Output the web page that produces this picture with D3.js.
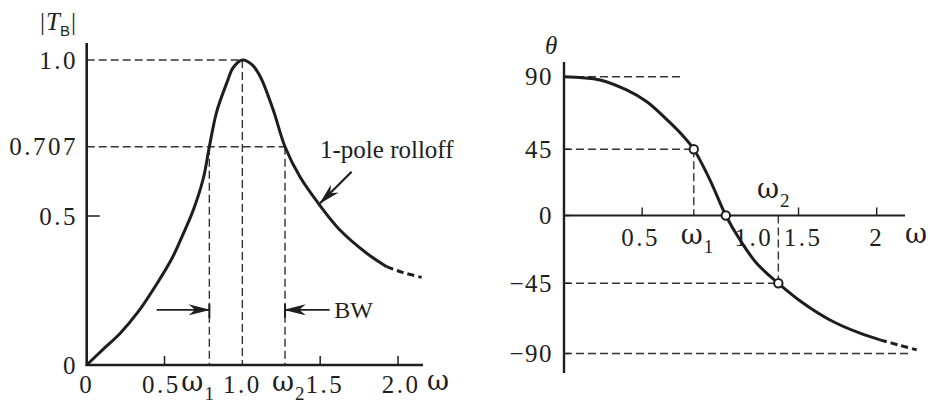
<!DOCTYPE html>
<html>
<head>
<meta charset="utf-8">
<script src="https://cdn.jsdelivr.net/npm/d3@7"></script>
<style>
  body { margin: 0; background: #fff; }
  svg { display: block; }
</style>
</head>
<body>
<svg width="930" height="407" font-family="'Liberation Serif', 'Times New Roman', Times, serif"></svg>
<script>
// left panel: |T_B| against omega
const magW = [0, 0.1, 0.214, 0.33, 0.45, 0.55, 0.62, 0.685, 0.749, 0.788, 0.835, 0.899, 0.942, 1.0, 1.06, 1.114, 1.199, 1.274, 1.370, 1.488, 1.627, 1.799, 1.927, 2.034, 2.152];
const magT = [0, 0.05, 0.106, 0.178, 0.272, 0.36, 0.44, 0.518, 0.612, 0.707, 0.825, 0.921, 0.975, 1.0, 0.985, 0.945, 0.83, 0.707, 0.617, 0.538, 0.453, 0.375, 0.330, 0.310, 0.294];
const magTailFrom = 1.927;
const magYTicks = [0, 0.5, 0.707, 1.0];
const magYLabels = ["0", "0.5", "0.707", "1.0"];
const magXTicks = [0.5, 1.5, 2.0];
const magXLabels = ["0", "0.5", "1.0", "1.5", "2.0"];
const magXLabelAt = [0, 0.48, 1.0, 1.53, 2.02];
const w1L = 0.788, w2L = 1.274, peakW = 1.0;

// right panel: theta against omega
const phW = [0, 0.23, 0.40, 0.53, 0.66, 0.766, 0.83, 0.934, 1.035, 1.126, 1.232, 1.371, 1.531, 1.701, 1.893, 2.021, 2.138, 2.256];
const phT = [90, 88, 81.8, 74.5, 63.2, 52.8, 45, 24.1, 0, -16.3, -31.7, -45, -57.8, -68.5, -77.0, -81.3, -84.5, -87.7];
const phTailFrom = 2.021;
const phYTicks = [-90, -45, 0, 45, 90];
const phYLabels = ["\u221290", "\u221245", "0", "45", "90"];
const phXTicks = [0.5, 1.5, 2];
const phXLabels = ["0.5", "1.0", "1.5", "2"];
const phXLabelAt = [0.49, 1.215, 1.53, 2.0];
const markW = [0.83, 1.035, 1.371];
const markT = [45, 0, -45];
const w1R = 0.83, w2R = 1.371, top90End = 0.742, bot90End = 2.224;

const svg = d3.select('svg');
const ink = '#1e1e1e';
const dash = '8,4';

svg.append('defs').append('marker')
    .attr('id', 'head')
    .attr('viewBox', '0 0 20 10')
    .attr('refX', 19).attr('refY', 5)
    .attr('markerWidth', 22).attr('markerHeight', 11)
    .attr('markerUnits', 'userSpaceOnUse')
    .attr('orient', 'auto')
  .append('path')
    .attr('d', 'M0,0 L20,5 L0,10 L6,5 Z')
    .attr('fill', ink);

// ---------- left panel ----------
const xL = d3.scaleLinear().domain([0, 2]).range([86.7, 398]);
const yL = d3.scaleLinear().domain([0, 0.5, 0.707, 1.0]).range([365, 216, 146.7, 60]);
const gL = svg.append('g').attr('fill', ink);

function dashed(g, x1, y1, x2, y2) {
    g.append('line')
        .attr('x1', x1).attr('y1', y1).attr('x2', x2).attr('y2', y2)
        .attr('stroke', '#333').attr('stroke-width', 1.4)
        .attr('stroke-dasharray', dash);
}

dashed(gL, xL(0), yL(1), xL(peakW), yL(1));
dashed(gL, xL(0), yL(0.707), xL(w2L), yL(0.707));
[w1L, peakW, w2L].forEach(w => dashed(gL, xL(w), w == peakW ? yL(1) : yL(0.707), xL(w), yL(0)));

// axes
gL.append('line').attr('x1', xL(0)).attr('y1', 43).attr('x2', xL(0)).attr('y2', yL(0) + 1)
    .attr('stroke', ink).attr('stroke-width', 2.6);
gL.append('line').attr('x1', xL(0) - 1).attr('y1', yL(0)).attr('x2', 423).attr('y2', yL(0))
    .attr('stroke', ink).attr('stroke-width', 2.4);
gL.selectAll('.xt').data(magXTicks).enter().append('line')
    .attr('x1', d => xL(d)).attr('x2', d => xL(d))
    .attr('y1', yL(0)).attr('y2', yL(0) - 9)
    .attr('stroke', ink).attr('stroke-width', 1.5);
gL.append('line').attr('x1', xL(0)).attr('x2', xL(0) + 13)
    .attr('y1', yL(0.5)).attr('y2', yL(0.5))
    .attr('stroke', ink).attr('stroke-width', 1.5);

gL.selectAll('.yl').data(magYTicks).enter().append('text')
    .attr('x', 78).attr('y', d => yL(d))
    .attr('dy', '0.35em').attr('text-anchor', 'end')
    .attr('font-size', 25).attr('letter-spacing', 2.5)
    .text((d, i) => magYLabels[i]);
gL.selectAll('.xl').data(magXLabelAt).enter().append('text')
    .attr('x', d => xL(d)).attr('y', 393)
    .attr('text-anchor', 'middle')
    .attr('font-size', 25).attr('letter-spacing', 2.5)
    .text((d, i) => magXLabels[i]);

function omega(g, x, y, sub) {
    const t = g.append('text').attr('x', x).attr('y', y);
    t.append('tspan').attr('font-family', "'DejaVu Serif', serif").attr('font-size', 27).text('\u03c9');
    if (sub) t.append('tspan').attr('dy', 9).attr('dx', 1).attr('font-size', 19).text(sub);
}
omega(gL, xL(w1L) - 28, 391, '1');
omega(gL, xL(w2L) - 13, 391, '2');
omega(gL, 427, 390);

// |T_B|
const tb = gL.append('text').attr('x', 40).attr('y', 30).attr('font-size', 25);
tb.append('tspan').text('|');
tb.append('tspan').attr('font-style', 'italic').attr('dx', 1).text('T');
tb.append('tspan').attr('dy', 6).attr('font-size', 15)
    .attr('font-family', "'Liberation Sans', sans-serif").text('B');
tb.append('tspan').attr('dy', -6).attr('dx', 1).text('|');

// curve
const magPts = magW.map((w, i) => [w, magT[i]]);
const lineL = d3.line().x(d => xL(d[0])).y(d => yL(d[1])).curve(d3.curveCatmullRom.alpha(0.5));
gL.append('path').attr('d', lineL(magPts.filter(d => d[0] <= magTailFrom)))
    .attr('fill', 'none').attr('stroke', ink).attr('stroke-width', 3);
gL.append('path').attr('d', lineL(magPts.filter(d => d[0] >= magTailFrom)))
    .attr('fill', 'none').attr('stroke', ink).attr('stroke-width', 3)
    .attr('stroke-dasharray', '7,4');

// BW arrows
const bwT = 0.185;
gL.append('line').attr('x1', xL(0.45)).attr('y1', yL(bwT)).attr('x2', xL(w1L)).attr('y2', yL(bwT))
    .attr('stroke', ink).attr('stroke-width', 1.6).attr('marker-end', 'url(#head)');
gL.append('line').attr('x1', xL(1.56)).attr('y1', yL(bwT)).attr('x2', xL(w2L)).attr('y2', yL(bwT))
    .attr('stroke', ink).attr('stroke-width', 1.6).attr('marker-end', 'url(#head)');
[w1L, w2L].forEach(w => gL.append('line')
    .attr('x1', xL(w)).attr('x2', xL(w)).attr('y1', yL(bwT) - 6).attr('y2', yL(bwT) + 8)
    .attr('stroke', ink).attr('stroke-width', 2));
gL.append('text').attr('x', xL(1.59)).attr('y', yL(bwT)).attr('dy', '0.35em')
    .attr('font-size', 24).text('BW');

// 1-pole rolloff note
gL.append('text').attr('x', xL(1.499)).attr('y', yL(0.673))
    .attr('font-size', 25).text('1-pole rolloff');
gL.append('line').attr('x1', xL(1.702)).attr('y1', yL(0.632)).attr('x2', xL(1.499)).attr('y2', yL(0.538))
    .attr('stroke', ink).attr('stroke-width', 2.2).attr('marker-end', 'url(#head)');

// ---------- right panel ----------
const xR = d3.scaleLinear().domain([0, 2]).range([564, 876.7]);
const yR = d3.scaleLinear().domain([-90, -45, 0, 45, 90]).range([353.5, 283.3, 215.5, 149.3, 76.7]);
const gR = svg.append('g').attr('fill', ink);

dashed(gR, xR(0), yR(90), xR(top90End), yR(90));
dashed(gR, xR(0), yR(45), xR(w1R), yR(45));
dashed(gR, xR(0), yR(-45), xR(w2R), yR(-45));
dashed(gR, xR(0), yR(-90), xR(bot90End), yR(-90));
dashed(gR, xR(w1R), yR(45), xR(w1R), yR(0));
dashed(gR, xR(w2R), yR(0), xR(w2R), yR(-45));

gR.append('line').attr('x1', xR(0)).attr('y1', 62).attr('x2', xR(0)).attr('y2', 373)
    .attr('stroke', ink).attr('stroke-width', 2.4);
gR.append('line').attr('x1', xR(0)).attr('y1', yR(0)).attr('x2', 905).attr('y2', yR(0))
    .attr('stroke', ink).attr('stroke-width', 2);
gR.selectAll('.xt').data(phXTicks).enter().append('line')
    .attr('x1', d => xR(d)).attr('x2', d => xR(d))
    .attr('y1', yR(0)).attr('y2', yR(0) - 8)
    .attr('stroke', ink).attr('stroke-width', 1.4);
gR.selectAll('.yt').data(phYTicks).enter().append('line')
    .attr('x1', xR(0)).attr('x2', xR(0) + 6)
    .attr('y1', d => yR(d)).attr('y2', d => yR(d))
    .attr('stroke', ink).attr('stroke-width', 1.4);

gR.selectAll('.yl').data(phYTicks).enter().append('text')
    .attr('x', 553).attr('y', d => yR(d))
    .attr('dy', '0.35em').attr('text-anchor', 'end')
    .attr('font-size', 25).attr('letter-spacing', 1.5)
    .text((d, i) => phYLabels[i]);
gR.selectAll('.xl').data(phXLabelAt).enter().append('text')
    .attr('x', d => xR(d)).attr('y', 246)
    .attr('text-anchor', 'middle')
    .attr('font-size', 25).attr('letter-spacing', 2.5)
    .text((d, i) => phXLabels[i]);
omega(gR, xR(w1R) - 13, 244, '1');
omega(gR, 757, 198, '2');
omega(gR, 905, 243);
gR.append('text').attr('x', 545).attr('y', 54).attr('font-size', 25)
    .attr('font-style', 'italic').text('\u03b8');

const phPts = phW.map((w, i) => [w, phT[i]]);
const lineR = d3.line().x(d => xR(d[0])).y(d => yR(d[1])).curve(d3.curveCatmullRom.alpha(0.5));
gR.append('path').attr('d', lineR(phPts.filter(d => d[0] <= phTailFrom)))
    .attr('fill', 'none').attr('stroke', ink).attr('stroke-width', 3);
gR.append('path').attr('d', lineR(phPts.filter(d => d[0] >= phTailFrom)))
    .attr('fill', 'none').attr('stroke', ink).attr('stroke-width', 3)
    .attr('stroke-dasharray', '7,4');

gR.selectAll('.mark').data(markW).enter().append('circle')
    .attr('cx', d => xR(d)).attr('cy', (d, i) => yR(markT[i]))
    .attr('r', 4.2)
    .attr('fill', '#fff').attr('stroke', ink).attr('stroke-width', 2);
</script>
</body>
</html>
